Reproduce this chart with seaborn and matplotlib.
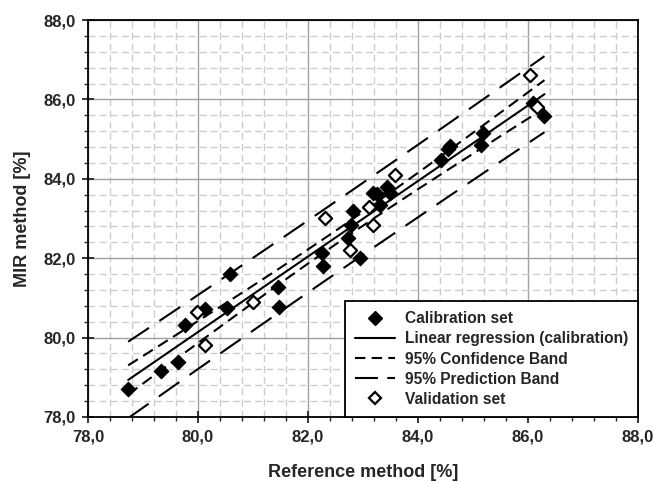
import numpy as np
import pandas as pd
import seaborn as sns
import matplotlib
matplotlib.use("Agg")
import matplotlib.pyplot as plt
from matplotlib.lines import Line2D
from matplotlib.ticker import MultipleLocator, FuncFormatter

# calibration set (reference %, MIR %)
cal_ref = [78.73, 79.33, 79.64, 79.76, 80.13, 80.53, 80.58, 81.45, 81.47,
           82.25, 82.27, 82.82, 82.78, 82.73, 82.95, 83.18, 83.25, 83.31,
           83.44, 83.49, 84.42, 84.55, 84.58, 85.15, 85.18, 86.10, 86.30]
cal_mir = [78.71, 79.16, 79.39, 80.32, 80.72, 80.75, 81.60, 81.27, 80.77,
           82.13, 81.80, 83.19, 82.84, 82.51, 82.00, 83.64, 83.62, 83.34,
           83.79, 83.64, 84.47, 84.75, 84.83, 84.85, 85.15, 85.90, 85.58]

# validation set
val_ref = [79.98, 80.13, 81.00, 82.31, 82.76, 83.11, 83.18, 83.58, 86.04, 86.16]
val_mir = [80.64, 79.81, 80.90, 83.01, 82.21, 83.29, 82.84, 84.10, 86.61, 85.81]

T95 = 2.06  # t(0.975, n-2) for n=27

cal = pd.DataFrame({"ref": cal_ref, "mir": cal_mir})
val = pd.DataFrame({"ref": val_ref, "mir": val_mir})

# linear regression on calibration set + bands
x = cal["ref"].to_numpy()
y = cal["mir"].to_numpy()
n = len(x)
slope, icpt = np.polyfit(x, y, 1)
resid = y - (slope * x + icpt)
s = np.sqrt(np.sum(resid ** 2) / (n - 2))
sxx = np.sum((x - x.mean()) ** 2)
xs = np.linspace(x.min(), x.max(), 100)
fit = slope * xs + icpt
ci = T95 * s * np.sqrt(1 / n + (xs - x.mean()) ** 2 / sxx)
pi = T95 * s * np.sqrt(1 + 1 / n + (xs - x.mean()) ** 2 / sxx)

sns.set_style("white")
plt.rcParams["font.family"] = ["Liberation Sans", "DejaVu Sans"]
plt.rcParams["font.weight"] = "bold"

fig = plt.figure(figsize=(6.55, 4.82), dpi=100)
ax = fig.add_axes([0.1344, 0.1349, 0.8396, 0.8236])

conf_dash = (5.5, 3)
pred_dash = (12, 6)
ax.plot(xs, fit, color="black", lw=1.5, zorder=3)
for sign in (1, -1):
    ax.plot(xs, fit + sign * ci, color="black", lw=1.5, dashes=conf_dash, zorder=3)
    ax.plot(xs, fit + sign * pi, color="black", lw=1.5, dashes=pred_dash, zorder=3)

sns.scatterplot(data=cal, x="ref", y="mir", marker="D", s=55, color="black",
                edgecolor="black", linewidth=0.8, ax=ax, zorder=4)
sns.scatterplot(data=val, x="ref", y="mir", marker="D", s=45, color="white",
                edgecolor="black", linewidth=1.6, ax=ax, zorder=5)

ax.set_xlim(78, 88)
ax.set_ylim(78, 88)
ax.xaxis.set_major_locator(MultipleLocator(2))
ax.yaxis.set_major_locator(MultipleLocator(2))
ax.xaxis.set_minor_locator(MultipleLocator(0.4))
ax.yaxis.set_minor_locator(MultipleLocator(0.4))
fmt = FuncFormatter(lambda v, p: f"{v:.1f}".replace(".", ","))
ax.xaxis.set_major_formatter(fmt)
ax.yaxis.set_major_formatter(fmt)

ax.grid(which="major", color="#a0a0a0", lw=1.0, ls="-")
ax.grid(which="minor", color="#cccccc", lw=1.0, ls=(0, (5, 3)))
ax.set_axisbelow(True)
for sp in ax.spines.values():
    sp.set_color("black")
    sp.set_linewidth(1.3)
ax.tick_params(which="major", direction="inout", length=8, width=1.3,
               labelsize=12, bottom=True, left=True, pad=5)
ax.tick_params(which="minor", direction="out", length=3, width=1,
               bottom=True, left=True)

ax.set_xlabel("Reference method [%]", fontsize=13, fontweight="bold", labelpad=14)
ax.set_ylabel("MIR method [%]", fontsize=13, fontweight="bold", labelpad=9)

handles = [
    Line2D([], [], marker="D", color="black", ls="none", markersize=7),
    Line2D([], [], color="black", lw=1.5),
    Line2D([], [], color="black", lw=1.5, dashes=(5, 3)),
    Line2D([], [], color="black", lw=1.5, dashes=(11, 4.5)),
    Line2D([], [], marker="D", color="black", markerfacecolor="white",
           markeredgewidth=1.6, ls="none", markersize=6.5),
]
labels = ["Calibration set", "Linear regression (calibration)",
          "95% Confidence Band", "95% Prediction Band", "Validation set"]
leg = ax.legend(handles, labels, loc="lower right", borderaxespad=0,
                fancybox=False, framealpha=1, edgecolor="black",
                prop={"weight": "bold", "size": 11.2}, handlelength=2.6,
                handletextpad=0.6, labelspacing=0.33, borderpad=0.65)
leg.get_frame().set_linewidth(1.3)
leg.set_zorder(10)

fig.savefig("out.png", dpi=100)
